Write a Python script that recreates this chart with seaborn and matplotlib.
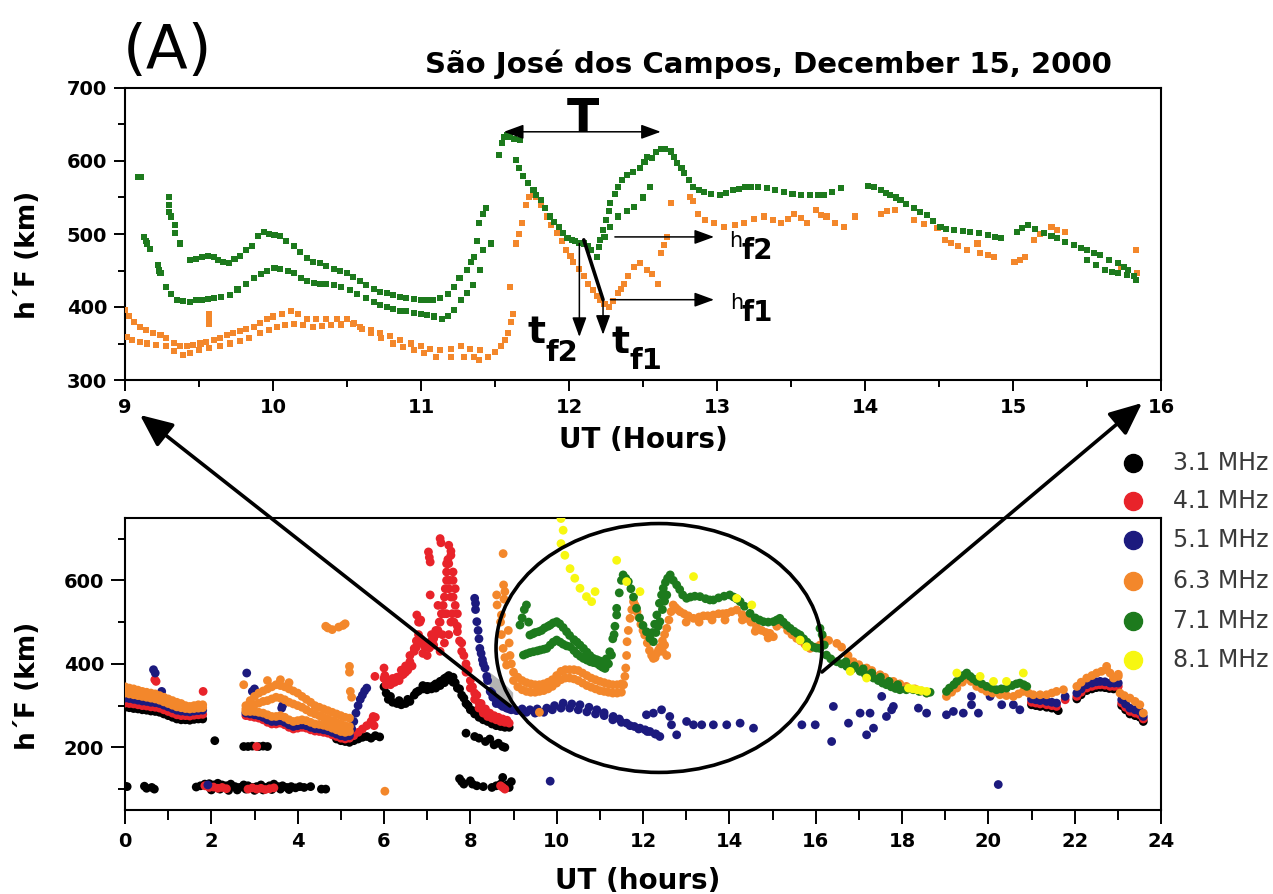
import numpy as np
import pandas as pd
import matplotlib
matplotlib.use("Agg")
import matplotlib.pyplot as plt
import seaborn as sns
from matplotlib.patches import Ellipse, FancyArrowPatch
from matplotlib.lines import Line2D

# ------------------------------------------------------------------ DATA
# --- Top panel (zoom, 9-16 UT): 6.3 MHz (orange) and 7.1 MHz (green)
top_green_t = [9.09, 9.11, 9.13, 9.14, 9.15, 9.17, 9.22, 9.23, 9.24, 9.30, 9.30, 9.30, 9.31, 9.34, 9.34, 9.37,
               9.44, 9.48, 9.52, 9.56, 9.60, 9.63, 9.66, 9.70, 9.74, 9.78, 9.82, 9.86, 9.90, 9.94, 9.97, 10.01,
               10.05, 10.09, 10.14, 10.18, 10.23, 10.27, 10.32, 10.36, 10.41, 10.45, 10.50, 10.54, 10.59, 10.63,
               10.68, 10.72, 10.77, 10.81, 10.86, 10.90, 10.95, 11.00, 11.04, 11.08, 11.13, 11.18, 11.22, 11.26,
               11.31, 11.34, 11.36, 11.38, 11.39, 11.42, 11.44,
               9.28, 9.31, 9.35, 9.39, 9.44, 9.48, 9.52, 9.56, 9.60, 9.65, 9.71, 9.76, 9.82, 9.87, 9.92, 9.96,
               10.01, 10.05, 10.10, 10.14, 10.19, 10.23, 10.28, 10.32, 10.36, 10.41, 10.46, 10.52, 10.57, 10.63,
               10.68, 10.72, 10.77, 10.81, 10.86, 10.90, 10.95, 11.00, 11.04, 11.09, 11.14, 11.18, 11.22, 11.27,
               11.31, 11.35, 11.40, 11.42, 11.47,
               11.53, 11.55, 11.56, 11.58, 11.60, 11.63, 11.67, 11.64, 11.66, 11.69, 11.72, 11.76, 11.78, 11.81,
               11.84, 11.87, 11.90, 11.93, 11.96, 11.99, 12.02, 12.04, 12.07, 12.10, 12.13, 12.15, 12.19, 12.20,
               12.21, 12.23, 12.25, 12.27, 12.28, 12.31, 12.33, 12.36, 12.39, 12.43, 12.48, 12.51, 12.53, 12.56,
               12.59, 12.62, 12.65, 12.69, 12.71, 12.73, 12.76, 12.78, 12.81, 12.84, 12.88, 12.91, 12.96, 13.02,
               13.06, 13.11, 13.15, 13.19, 13.23, 13.28, 13.34, 13.39, 13.45, 13.51, 13.57, 13.63, 13.68, 13.72,
               13.78, 13.84, 14.02, 14.06, 14.11, 14.14, 14.17, 14.21, 14.24, 14.28, 14.33, 14.37, 14.42, 14.46,
               14.51, 14.55, 14.60, 14.66, 14.71, 14.77, 14.83, 14.88, 14.92, 15.03, 15.06, 15.10, 15.15, 15.21,
               15.26, 15.30, 15.35, 15.41, 15.46, 15.50, 15.55, 15.59, 15.65, 15.71, 15.75, 15.78, 15.83,
               12.24, 12.28, 12.33, 12.39, 12.44, 12.50, 12.55,
               15.50, 15.56, 15.62, 15.67, 15.71, 15.77, 15.82]
top_green_h = [578, 578, 496, 490, 487, 480, 457, 450, 446, 551, 540, 530, 524, 512, 502, 487,
               465, 466, 468, 470, 469, 465, 462, 460, 466, 470, 478, 484, 497, 503, 500, 499,
               497, 490, 483, 475, 467, 462, 460, 456, 452, 449, 446, 441, 435, 430,
               425, 421, 419, 416, 414, 412, 411, 410, 409, 410, 412, 418, 428, 440,
               451, 462, 469, 490, 515, 528, 535,
               428, 418, 410, 408, 407, 409, 410, 411, 412, 414, 416, 424, 432, 440, 445, 449,
               453, 452, 449, 446, 440, 435, 433, 432, 432, 430, 427, 423, 418, 412,
               407, 403, 400, 397, 395, 394, 392, 390, 389, 387, 384, 388, 396, 410,
               419, 430, 451, 478, 487,
               608, 625, 633, 636, 633, 630, 629, 601, 590, 579, 570, 560, 553, 547,
               535, 524, 517, 510, 502, 494, 492, 490, 488, 487, 483, 478, 469, 482,
               492, 505, 519, 531, 542, 555, 565, 574, 581, 585, 590, 598, 606, 604,
               612, 617, 616, 613, 605, 597, 590, 583, 574, 565, 560, 558, 555, 553,
               556, 560, 562, 564, 565, 564, 563, 560, 558, 555, 553, 553, 553, 553,
               558, 563, 566, 565, 560, 556, 553, 550, 547, 541, 535, 530, 526, 518,
               510, 507, 505, 504, 503, 501, 499, 496, 494, 503, 508, 512, 507, 501,
               497, 494, 489, 485, 481, 478, 474, 471, 465, 460, 455, 451, 437,
               496, 510, 524, 531, 537, 550, 565,
               464, 458, 451, 448, 446, 444, 442]

top_orange_t = [9.00, 9.03, 9.06, 9.10, 9.14, 9.19, 9.24, 9.28, 9.33, 9.37, 9.42, 9.46, 9.51, 9.55, 9.60, 9.64,
                9.69, 9.73, 9.78, 9.82, 9.87, 9.91, 9.96, 10.00, 10.06, 10.12, 10.17, 10.23, 10.29, 10.36, 10.43,
                10.50, 10.55, 10.59, 10.66, 10.72, 10.79, 10.86, 10.93, 11.00, 11.06, 11.13, 11.20, 11.27, 11.33,
                11.40,
                9.01, 9.05, 9.10, 9.15, 9.21, 9.28, 9.33, 9.39, 9.44, 9.50, 9.57, 9.64, 9.71, 9.78, 9.84, 9.91,
                9.97, 10.03, 10.08, 10.14, 10.20, 10.27, 10.33, 10.39, 10.46, 10.54, 10.60, 10.66, 10.73, 10.81,
                10.88, 10.95, 11.02, 11.10, 11.20, 11.29, 11.36, 11.39, 11.45, 11.50,
                9.57, 9.57, 9.57,
                11.54, 11.57, 11.59, 11.61, 11.62, 11.60, 11.64, 11.66, 11.68, 11.71, 11.73, 11.76, 11.78, 11.81,
                11.85, 11.88, 11.92, 11.95, 11.98, 12.01, 12.03, 12.07, 12.10, 12.13, 12.16, 12.19, 12.21, 12.24,
                12.27, 12.30, 12.33, 12.35, 12.37, 12.40, 12.44, 12.48, 12.53, 12.56, 12.60, 12.62, 12.64, 12.66,
                12.69, 12.82, 12.84, 12.87, 12.92, 12.98, 13.05, 13.12, 13.18, 13.25, 13.32, 13.38, 13.43, 13.48,
                13.52, 13.57, 13.61, 13.67, 13.70, 13.74, 13.80, 13.86, 13.93, 14.11, 14.15, 14.20, 14.33, 14.40,
                14.49, 14.54, 14.58, 14.63, 14.69, 14.76, 14.78, 14.83, 14.87, 15.01, 15.05, 15.08, 15.14, 15.18,
                15.26, 15.30, 15.35, 15.73, 15.83, 15.84]
top_orange_h = [396, 388, 380, 373, 369, 365, 362, 357, 351, 346, 347, 348, 350, 352, 355, 358,
                361, 364, 367, 370, 373, 378, 383, 387, 391, 394, 390, 384, 384, 384, 384,
                384, 378, 373, 368, 364, 360, 355, 350, 346, 343, 341, 343, 346, 343,
                341,
                359, 355, 352, 350, 348, 346, 340, 334, 337, 341, 344, 346, 350, 353, 358, 364,
                369, 373, 375, 377, 375, 373, 374, 375, 376, 377, 370, 364, 357, 350,
                345, 341, 337, 332, 332, 332, 332, 327, 332, 338,
                391, 384, 377,
                346, 355, 364, 380, 391, 428, 487, 500, 515, 540, 551, 553, 551, 540,
                524, 512, 501, 490, 478, 470, 462, 452, 442, 432, 423, 415, 410, 404,
                400, 408, 419, 425, 432, 442, 455, 460, 451, 445, 432, 474, 485, 496,
                542, 551, 545, 528, 519, 515, 510, 512, 515, 520, 524, 519, 515, 520,
                528, 522, 515, 533, 526, 524, 515, 510, 524, 528, 531, 533, 519, 514,
                508, 492, 488, 483, 478, 487, 474, 471, 469, 462, 465, 469, 492, 500,
                510, 506, 503, 455, 478, 446]

# --- Bottom panel (full day, 0-24 UT): six sounding frequencies
f31_t = [0.0, 0.1, 0.2, 0.3, 0.4, 0.5, 0.6, 0.7, 0.8, 0.9, 1.0, 1.1, 1.2, 1.3, 1.4, 1.5, 1.6, 1.7, 1.8,
         0.0, 0.05, 0.45, 0.5, 0.62, 0.68,
         1.65, 1.75, 1.85, 1.95, 2.05, 2.15, 2.25, 2.35, 2.45, 2.55, 2.65, 2.75, 2.85, 2.95, 3.05, 3.15,
         3.25, 3.35, 3.45, 3.55, 3.65, 3.75, 3.85, 3.95, 4.05, 4.15, 4.3, 4.55, 4.65,
         2.0, 2.2, 2.4, 2.6, 2.8, 3.0, 3.2, 3.4, 3.6, 3.8,
         2.08, 2.75, 2.85, 2.95, 3.1, 3.2, 3.3,
         4.9, 5.0, 5.1, 5.2, 5.3, 5.4, 5.5, 5.6, 5.7, 5.8, 5.9,
         6.0, 6.05, 6.1, 6.2, 6.3, 6.4, 6.5, 6.6, 6.7, 6.8, 6.9, 7.0, 7.1, 7.2, 7.3, 7.4, 7.5, 7.6, 7.7,
         7.8, 7.9, 8.0, 8.1, 8.2, 8.3, 8.4, 8.5, 8.6, 8.7, 8.8, 8.9,
         7.2, 7.4, 7.5, 7.6, 7.3, 6.9, 7.0,
         6.15, 6.35, 6.55, 6.75, 7.05, 7.15, 7.35, 7.45, 7.65, 7.75, 7.85, 7.95, 8.05, 8.15, 8.25, 8.35,
         8.45, 8.55, 8.65, 8.75, 8.85,
         7.9, 8.1, 8.2, 8.35, 8.45, 8.55, 8.65, 8.75, 8.8,
         7.75, 7.8, 7.85, 8.0, 8.05, 8.15, 8.3, 8.5, 8.6, 8.7, 8.75, 8.85, 8.9, 8.95,
         21.0, 21.1, 21.2, 21.35, 21.47, 21.58, 21.62, 22.05, 22.15, 22.28, 22.4, 22.5, 22.6, 22.7, 22.8,
         22.9, 23.09, 23.18, 23.28, 23.4, 23.51, 23.59]
f31_h = [296, 295, 293, 292, 290, 289, 287, 286, 284, 280, 276, 272, 268, 266, 266, 265, 267, 268, 268,
         107, 106, 107, 102, 104, 100,
         105, 108, 112, 113, 110, 114, 110, 108, 112, 106, 104, 110, 108, 104, 106, 110,
         104, 108, 112, 106, 108, 104, 106, 103, 106, 104, 106, 100, 100,
         98, 100, 97, 98, 100, 97, 98, 99, 100, 99,
         216, 202, 202, 203, 202, 203, 202,
         220, 216, 214, 212, 216, 220, 224, 226, 222, 228, 225,
         345, 330, 315, 308, 305, 302, 305, 310, 325, 335, 340, 338, 340, 342, 348, 355, 362, 356, 342,
         325, 305, 290, 280, 272, 266, 262, 256, 252, 250, 248, 248,
         352, 365, 372, 368, 358, 348, 346,
         322, 312, 315, 332, 345, 348, 360, 368, 355, 340, 318, 300, 288, 280, 272, 266,
         262, 258, 256, 254, 254,
         234, 226, 222, 214, 220, 206, 210, 202, 200,
         125, 118, 112, 120, 112, 108, 106, 104, 108, 112, 128, 110, 104, 118,
         302, 300, 298, 296, 294, 292, 288, 316, 326, 336, 340, 343, 344, 343, 341,
         340, 300, 290, 280, 276, 272, 262]

f41_t = [0.0, 0.1, 0.2, 0.3, 0.4, 0.5, 0.6, 0.7, 0.8, 0.9, 1.0, 1.1, 1.2, 1.3, 1.4, 1.5, 1.6, 1.7, 1.8,
         0.69, 0.72, 1.81,
         1.85, 1.95, 2.05, 2.15, 2.25, 2.35, 2.85, 2.95, 3.05, 3.15, 3.25, 3.35, 3.45, 3.05,
         2.8, 2.9, 3.0, 3.1, 3.2, 3.3, 3.4, 3.5, 3.6, 3.7, 3.8, 3.9, 4.0, 4.1, 4.2, 4.3, 4.4, 4.5, 4.6,
         4.7, 4.8, 4.9, 5.0, 5.1, 5.2, 5.3, 5.4, 5.5, 5.6, 5.7, 5.75, 5.8, 5.79,
         6.0, 6.02, 6.05, 6.1, 6.2, 6.3, 6.4, 6.5, 6.55, 6.6, 6.7, 6.75, 6.8, 6.85, 6.9, 7.0, 7.05, 7.1,
         7.15, 7.2, 7.3, 7.35, 7.4, 7.45, 7.5, 7.55, 7.6, 7.65, 7.7, 7.8, 7.9, 8.0, 8.1, 8.2, 8.3, 8.4,
         8.5, 8.6, 8.7, 8.8, 8.9,
         7.03, 7.05, 7.07, 7.07, 7.3, 7.32, 6.76, 6.85, 7.45, 7.5, 7.55, 7.25, 7.4,
         7.3, 7.4, 7.5, 7.55, 7.6, 7.35, 7.45, 7.5, 7.6, 7.65, 7.7,
         7.8, 7.9, 8.0, 8.1, 8.2,
         6.0, 6.05, 6.1, 6.15, 6.2, 6.25, 6.3, 6.35, 6.4, 6.45, 6.5, 6.55, 6.6, 6.65,
         6.7, 6.75, 6.8, 6.83, 6.87, 6.95, 7.0, 7.05, 7.1, 7.15, 7.2, 7.25, 7.28, 7.33, 7.37, 7.42,
         7.45, 7.48, 7.52, 7.55, 7.58, 7.62,
         7.7, 7.75, 7.85, 7.95, 8.05, 8.15, 8.25, 8.35, 8.45, 8.55, 8.65, 8.75, 8.85,
         5.75, 5.77,
         8.7, 8.75, 8.8,
         21.0, 21.1, 21.2, 21.35, 21.47, 21.58, 21.78, 22.05, 22.15, 22.28, 22.4, 22.5, 22.59, 22.7,
         22.82, 22.92, 23.01, 23.09, 23.18, 23.28, 23.4, 23.51, 23.59]
f41_h = [306, 305, 304, 302, 300, 299, 297, 296, 294, 290, 286, 282, 278, 276, 276, 275, 277, 278, 279,
         362, 358, 334,
         108, 104, 105, 102, 104, 101, 100, 103, 100, 102, 99, 101, 103, 202,
         276, 274, 272, 270, 266, 260, 256, 256, 258, 254, 248, 244, 246, 248, 246, 242, 239, 238, 236,
         234, 230, 226, 222, 220, 222, 228, 236, 244, 252, 262, 270, 272, 370,
         390, 372, 360, 352, 355, 362, 372, 380, 390, 420, 437, 455, 500, 460, 425, 420, 450, 470,
         460, 480, 500, 520, 560, 600, 640, 670, 620, 540, 477, 430, 380, 342, 315, 294, 282, 274,
         270, 266, 262, 260, 258,
         668, 655, 644, 565, 700, 690, 517, 505, 640, 684, 660, 540, 520,
         430, 450, 470, 500, 560, 470, 520, 580, 600, 580, 520,
         450, 400, 360, 330, 306,
         365, 350, 360, 350, 365, 356, 368, 360, 385, 375, 395, 385, 405, 395,
         430, 440, 470, 500, 450, 440, 445, 438, 455, 445, 470, 480, 500, 520, 540, 580,
         620, 650, 600, 560, 520, 500,
         490, 455, 420, 385, 345, 325, 305, 292, 282, 276, 272, 268, 265,
         274, 252,
         108, 104, 100,
         308, 306, 304, 302, 300, 298, 314, 322, 332, 342, 346, 349, 350, 349,
         346, 346, 346, 306, 296, 286, 282, 278, 268]

f51_t = [0.0, 0.1, 0.2, 0.3, 0.4, 0.5, 0.6, 0.7, 0.8, 0.9, 1.0, 1.1, 1.2, 1.3, 1.4, 1.5, 1.6, 1.7, 1.8,
         0.66, 0.7, 0.85, 1.92,
         2.8, 2.9, 3.0, 3.1, 3.2, 3.3, 3.4, 3.5, 3.6, 3.7, 3.8, 3.9, 4.0, 4.1, 4.2, 4.3, 4.4, 4.5, 4.6,
         4.7, 4.8, 4.9, 5.0, 5.1, 5.2, 5.25, 5.3, 5.35, 5.4, 5.45, 5.5, 5.55, 5.6,
         2.82, 2.95, 3.0, 3.63, 3.65,
         8.1, 8.12, 8.15, 8.2, 8.22, 8.28, 8.34, 8.4, 8.46, 8.52, 8.61, 8.7, 8.84, 8.95, 9.07,
         8.12, 8.18, 8.25, 8.3, 8.38, 8.5, 8.6, 8.75, 8.9,
         9.2, 9.38, 9.55, 9.77, 9.95, 10.15, 10.35, 10.54, 10.75, 10.93, 11.1, 11.31, 11.45, 11.62, 11.8,
         11.93, 12.05, 12.16, 12.28, 12.39,
         9.3, 9.5, 9.7, 9.9, 10.1, 10.3, 10.5, 10.7, 10.9, 11.1, 11.3, 11.5, 11.7, 11.9, 12.1, 12.3,
         12.08, 12.24, 12.43, 12.66, 12.62, 12.78, 13.01, 13.17, 13.36, 13.63, 13.94, 14.25, 14.56,
         15.68, 15.99, 16.41, 16.37, 9.85,
         16.76, 17.03, 17.26, 17.18, 17.34, 17.53, 17.64, 17.76, 17.8, 18.38, 18.57, 19.03, 19.19,
         19.42, 19.61, 19.77, 19.61, 20.04, 20.31, 20.58, 20.73, 20.23,
         21.0, 21.1, 21.2, 21.35, 21.47, 21.58, 21.78, 22.05, 22.15, 22.28, 22.4, 22.5, 22.59, 22.7,
         22.82, 22.92, 23.01, 23.09, 23.18, 23.28, 23.4, 23.51, 23.59]
f51_h = [318, 317, 315, 313, 311, 310, 308, 307, 305, 301, 297, 293, 289, 287, 286, 285, 287, 288, 289,
         386, 378, 334, 110,
         282, 280, 278, 276, 272, 266, 262, 262, 264, 260, 254, 250, 252, 254, 252, 248, 245, 244, 242,
         240, 236, 232, 228, 226, 228, 245, 262, 282, 300, 315, 325, 335, 342,
         378, 334, 340, 294, 300,
         557, 530, 501, 460, 437, 410, 390, 360, 334, 320, 310, 302, 294, 290, 288,
         545, 480, 425, 400, 370, 330, 305, 298, 292,
         292, 290, 292, 294, 300, 306, 304, 302, 296, 290, 283, 274, 268, 258, 250,
         246, 242, 238, 232, 226,
         284, 282, 284, 290, 294, 294, 290, 285, 280, 276, 266, 260, 252, 244, 238, 232,
         278, 282, 290, 254, 274, 230, 262, 254, 254, 254, 254, 258, 246,
         254, 254, 298, 214, 119,
         258, 282, 282, 230, 246, 322, 274, 290, 298, 294, 282, 278, 286,
         282, 302, 282, 322, 322, 302, 302, 290, 111,
         316, 314, 312, 310, 308, 306, 322, 330, 340, 350, 354, 357, 358, 357,
         354, 354, 354, 314, 304, 294, 290, 286, 274]

f63_t = [0.0, 0.1, 0.2, 0.3, 0.4, 0.5, 0.6, 0.7, 0.8, 0.9, 1.0, 1.1, 1.2, 1.3, 1.4, 1.5, 1.6, 1.7, 1.8,
         0.0, 0.1, 0.2, 0.3, 0.4, 0.5, 0.6, 0.7, 0.8, 0.9, 1.0, 1.1, 1.2, 1.3, 1.4, 1.5, 1.6, 1.7, 1.8,
         2.8, 2.9, 3.0, 3.1, 3.2, 3.3, 3.4, 3.5, 3.6, 3.7, 3.8, 3.9, 4.0, 4.1, 4.2, 4.3, 4.4, 4.5, 4.6,
         4.7, 4.8, 4.9, 5.0, 5.1, 5.2,
         2.8, 2.9, 3.0, 3.1, 3.2, 3.3, 3.4, 3.5, 3.6, 3.7, 3.8, 3.9, 4.0, 4.1, 4.2, 4.3, 4.4, 4.5, 4.6,
         4.7, 4.8, 4.9, 5.0, 5.1, 5.2,
         2.8, 2.9, 3.0, 3.1, 3.2, 3.3, 3.4, 3.5, 3.6, 3.7, 3.8, 3.9, 4.0, 4.1, 4.2, 4.3, 4.4, 4.5, 4.6,
         4.7, 4.8, 4.9, 5.0, 5.1, 5.2,
         3.3, 3.6, 3.8, 2.75,
         4.65, 4.7, 4.8, 4.95, 5.05, 5.1, 5.2, 5.2, 5.22, 5.25, 6.02,
         8.76, 8.61, 8.62, 8.77, 8.8, 8.78, 8.72, 8.7, 8.72, 8.76, 8.8, 8.84, 8.88, 8.9, 8.92, 8.95,
         9.0, 9.1, 9.2, 9.3, 9.4, 9.5, 9.6, 9.7, 9.8, 9.9, 10.0, 10.1, 10.2, 10.3, 10.4, 10.5, 10.6,
         10.7, 10.8, 10.9, 11.0, 11.1, 11.2, 11.3, 11.4, 11.5,
         9.0, 9.1, 9.2, 9.3, 9.4, 9.5, 9.6, 9.7, 9.8, 9.9, 10.0, 10.1, 10.2, 10.3, 10.4, 10.5, 10.6,
         10.7, 10.8, 10.9, 11.0, 11.1, 11.2, 11.3, 11.4, 11.5, 9.6,
         11.55, 11.58, 11.6, 11.62, 11.63, 11.66, 11.7, 11.74, 11.78, 11.82, 11.86, 11.9, 11.95, 12.0,
         12.04, 12.1, 12.15, 12.2, 12.24, 12.28, 12.32, 12.36, 12.4, 12.45, 12.5, 12.55, 12.6, 12.65,
         12.7, 12.75, 12.8, 12.86, 12.95, 13.05, 13.17, 13.3, 13.4, 13.5, 13.63, 13.75, 13.85, 13.94,
         14.05, 14.17, 14.3, 14.4, 14.5, 14.63, 14.75, 14.85, 14.94, 15.02, 15.1, 15.17, 15.25, 15.35,
         15.45, 15.56, 15.65, 15.75, 15.87, 16.0, 16.1,
         12.45, 12.5, 12.55, 13.0, 13.3, 13.6, 13.9, 14.3, 14.6, 14.9,
         16.18, 16.3, 16.49, 16.6, 16.75, 16.87, 17.0, 17.18, 17.3, 17.49, 17.6, 17.8, 17.95, 18.1, 18.3,
         18.45, 18.57, 19.03, 19.15, 19.27, 19.4, 19.5, 19.6, 19.73, 19.85, 19.96, 20.1, 20.27, 20.42,
         20.58, 20.7, 20.81, 20.93, 21.04, 21.2, 21.35, 21.47, 21.58, 21.74, 22.05, 22.15, 22.28, 22.4,
         22.51, 22.62, 22.74, 22.82, 22.9, 23.01, 23.05, 23.15, 23.28, 23.4, 23.51, 23.59, 22.74, 23.01]
f63_h = [345, 342, 340, 337, 334, 332, 330, 328, 324, 320, 316, 312, 308, 305, 300, 298, 300, 302, 302,
         330, 328, 326, 324, 322, 320, 318, 316, 313, 309, 305, 301, 297, 295, 293, 292, 293, 294, 295,
         300, 312, 322, 330, 335, 340, 345, 350, 348, 345, 340, 335, 330, 322, 315, 308, 300, 296, 292,
         288, 284, 280, 276, 272, 270,
         292, 296, 302, 306, 310, 312, 316, 320, 318, 314, 308, 304, 300, 296, 290, 284, 280, 276, 272,
         268, 264, 260, 256, 252, 250,
         286, 286, 286, 284, 282, 278, 274, 274, 276, 272, 266, 262, 264, 266, 264, 260, 256, 255, 253,
         250, 246, 242, 238, 236, 238,
         360, 362, 355, 350,
         490, 486, 482, 488, 492, 496, 394, 380, 334, 320, 95,
         664, 565, 541, 589, 573, 555, 517, 500, 470, 437, 415, 397, 480, 450, 420, 400,
         380, 368, 360, 355, 352, 350, 350, 352, 356, 362, 372, 382, 386, 386, 386, 384, 378,
         372, 366, 362, 358, 355, 352, 350, 350, 352,
         360, 345, 338, 334, 332, 332, 334, 336, 340, 346, 354, 362, 366, 366, 364, 360, 354,
         348, 344, 340, 336, 334, 332, 330, 330, 332, 284,
         350, 370, 390, 420, 453, 480, 509, 530, 549, 540, 525, 512, 495, 480,
         469, 450, 432, 420, 413, 415, 425, 433, 440, 455, 470, 485, 505, 525,
         541, 535, 530, 525, 520, 515, 509, 512, 515, 515, 517, 520, 520, 521,
         525, 529, 518, 509, 500, 489, 480, 475, 473, 465, 490, 501, 495, 480,
         470, 461, 455, 447, 437, 440, 445,
         430, 445, 420, 500, 500, 505, 505, 505, 478, 462,
         461, 456, 449, 440, 420, 405, 398, 390, 384, 374, 368, 358, 352, 346, 340,
         335, 330, 322, 332, 342, 356, 366, 358, 346, 340, 334, 330, 326, 324,
         322, 328, 334, 330, 326, 326, 326, 330, 334, 338, 346, 356, 366, 372,
         378, 382, 386, 378, 366, 370, 330, 324, 318, 310, 302, 282, 394, 375]

f71_t = [9.15, 9.2, 9.25, 9.3, 9.35, 9.38, 9.45, 9.5, 9.58, 9.65, 9.72, 9.8, 9.85, 9.92, 10.0, 10.07,
         10.15, 10.23, 10.3, 10.4, 10.47, 10.54, 10.62, 10.7, 10.77, 10.85, 10.93, 11.0, 11.08, 11.15,
         11.23, 11.3, 11.35, 11.39, 11.45, 11.5, 11.54, 11.6, 11.66, 11.72, 11.78, 11.85, 11.92, 12.0,
         12.08, 12.16, 12.22, 12.27, 12.32, 12.38, 12.43, 12.47, 12.52, 12.57, 12.63, 12.7, 12.78, 12.85,
         12.92, 13.01, 13.1, 13.2, 13.32, 13.45, 13.55, 13.63, 13.75, 13.88, 14.01, 14.1, 14.18, 14.25,
         14.35, 14.48, 14.6, 14.7, 14.79, 14.9, 15.02, 15.1, 15.17, 15.25, 15.33, 15.41, 15.5, 15.57,
         15.64, 15.72, 15.8, 15.87, 15.95, 16.02, 16.1,
         9.23, 9.3, 9.38, 9.46, 9.55, 9.62, 9.7, 9.77, 9.85, 9.92, 10.0, 10.08, 10.15, 10.23, 10.31,
         10.4, 10.47, 10.55, 10.62, 10.7, 10.78, 10.85, 10.93, 11.0, 11.06, 11.12, 11.2, 11.27, 11.33,
         11.39,
         12.24, 12.3, 12.35, 12.39, 12.45, 12.5, 12.55,
         16.1, 16.15, 16.2, 16.25, 16.35, 16.49, 16.6, 16.72, 16.85, 17.03, 17.15, 17.25, 17.34, 17.45,
         17.55, 17.64, 17.75, 17.85, 17.95, 18.1, 18.26, 18.4, 18.57, 18.65,
         16.7, 16.9, 17.1, 17.3, 17.5, 17.7, 17.9,
         19.03, 19.1, 19.2, 19.27, 19.35, 19.42, 19.5, 19.58, 19.65, 19.73, 19.85, 19.96, 20.08, 20.19,
         20.3, 20.42, 20.55, 20.65, 20.73, 20.82, 20.89]
f71_h = [493, 510, 530, 541, 500, 469, 472, 475, 477, 480, 486, 490, 493, 498, 501, 496,
         487, 477, 468, 458, 452, 445, 437, 428, 420, 413, 410, 407, 405, 412,
         429, 460, 490, 517, 570, 600, 613, 605, 597, 580, 560, 533, 510, 492,
         477, 461, 475, 495, 517, 545, 565, 581, 595, 605, 613, 600, 589, 578,
         565, 557, 560, 562, 561, 556, 553, 553, 558, 562, 565, 560, 555, 549,
         538, 521, 510, 505, 501, 500, 501, 505, 509, 500, 492, 485, 478, 473,
         469, 460, 452, 445, 440, 438, 437,
         421, 424, 427, 429, 431, 433, 435, 437, 445, 452, 457, 452, 447, 443, 441,
         432, 424, 418, 413, 409, 405, 403, 401, 396, 392, 389, 400, 421, 470,
         533,
         453, 475, 490, 501, 530, 550, 565,
         485, 470, 445, 421, 412, 405, 400, 394, 388, 382, 375, 370, 366, 360,
         354, 350, 345, 341, 338, 338, 338, 334, 330, 332,
         405, 395, 388, 378, 368, 358, 350,
         334, 342, 350, 358, 366, 372, 378, 370, 364, 358, 352, 346, 342, 338,
         340, 342, 348, 352, 354, 350, 346]

f81_t = [10.1, 10.15, 10.1, 10.19, 10.31, 10.42, 10.54, 10.69, 10.81, 10.89, 11.39, 11.62, 11.93,
         13.17, 14.17, 14.52, 15.64, 15.79, 16.8, 17.18, 18.15, 18.25, 18.35, 18.45, 18.57,
         19.27, 19.81, 20.12, 20.42, 20.81]
f81_h = [748, 720, 688, 660, 628, 605, 581, 561, 549, 573, 648, 597, 573,
         609, 557, 541, 457, 441, 382, 366, 342, 340, 338, 336, 334,
         378, 370, 358, 358, 378]

freq_labels = ["3.1 MHz", "4.1 MHz", "5.1 MHz", "6.3 MHz", "7.1 MHz", "8.1 MHz"]
freq_colors = ["#000000", "#e8232a", "#1c1a7e", "#f3872b", "#1d7a1d", "#f7f711"]

# annotation shapes (bottom panel): shaded gap and the zoom ellipse
gap_t = [8.42, 8.55, 8.7, 8.85, 8.98]
gap_upper = [382, 372, 360, 346, 332]
gap_lower = [352, 322, 302, 295, 292]
ellipse_center = (12.37, 438)
ellipse_size = (7.55, 596)

# ------------------------------------------------------------------ FIGURE
sns.set_theme(style="ticks")
plt.rcParams["font.family"] = ["DejaVu Sans"]
plt.rcParams["mathtext.fontset"] = "dejavusans"
for key in ("text.color", "axes.labelcolor", "xtick.color", "ytick.color", "axes.edgecolor"):
    plt.rcParams[key] = "black"

W, H = 1273, 894
fig = plt.figure(figsize=(W / 100, H / 100), dpi=100)
fig.patch.set_facecolor("white")


def fx(px):
    return px / W


def fy(py):
    return 1 - py / H


ax_top = fig.add_axes([fx(125), fy(380), (1161 - 125) / W, (380 - 88) / H])
ax_bot = fig.add_axes([fx(125), fy(810), (1161 - 125) / W, (810 - 517.7) / H])

# --- top panel
df_top = pd.concat([
    pd.DataFrame({"t": top_orange_t, "h": top_orange_h, "f": "6.3 MHz"}),
    pd.DataFrame({"t": top_green_t, "h": top_green_h, "f": "7.1 MHz"}),
])
sns.scatterplot(data=df_top, x="t", y="h", hue="f",
                palette={"6.3 MHz": freq_colors[3], "7.1 MHz": freq_colors[4]},
                marker="s", s=19, linewidth=0, legend=False, ax=ax_top, zorder=3)
ax_top.set_xlim(9, 16)
ax_top.set_ylim(300, 700)
ax_top.set_xticks(range(9, 17))
ax_top.set_xticks(np.arange(9.5, 16, 1.0), minor=True)
ax_top.set_yticks(range(300, 701, 100))
ax_top.set_yticks(range(350, 700, 100), minor=True)
ax_top.set_xlabel("")
ax_top.set_ylabel("")

# --- bottom panel
series = [(f31_t, f31_h), (f41_t, f41_h), (f51_t, f51_h), (f63_t, f63_h), (f71_t, f71_h), (f81_t, f81_h)]
df_bot = pd.concat([pd.DataFrame({"t": t, "h": h, "f": lab})
                    for (t, h), lab in zip(series, freq_labels)], ignore_index=True)
ax_bot.fill_between(gap_t, gap_lower, gap_upper, color="#b3b3b3", linewidth=0, zorder=2)
sns.scatterplot(data=df_bot, x="t", y="h", hue="f", hue_order=freq_labels,
                palette=dict(zip(freq_labels, freq_colors)),
                marker="o", s=40, linewidth=0, legend=False, ax=ax_bot, zorder=3)
ax_bot.set_xlim(0, 24)
ax_bot.set_ylim(50, 750)
ax_bot.set_xticks(range(0, 25, 2))
ax_bot.set_xticks(range(1, 24, 2), minor=True)
ax_bot.set_yticks([200, 400, 600])
ax_bot.set_yticks([100, 300, 500, 700], minor=True)
ax_bot.set_xlabel("")
ax_bot.set_ylabel("")
ax_bot.add_patch(Ellipse(ellipse_center, ellipse_size[0], ellipse_size[1], fill=False,
                         edgecolor="black", linewidth=2.6, zorder=6))

for ax in (ax_top, ax_bot):
    for sp in ax.spines.values():
        sp.set_linewidth(1.5)
        sp.set_color("black")
        sp.set_visible(True)
    ax.tick_params(which="both", direction="out", width=1.4, color="black",
                   top=False, right=False, labelsize=14, labelcolor="black")
    ax.tick_params(which="major", length=8, pad=5)
    ax.tick_params(which="minor", length=5)
    for lab in ax.get_xticklabels() + ax.get_yticklabels():
        lab.set_fontweight("bold")
ax_bot.tick_params(axis="x", which="major", length=10, pad=6)
ax_bot.tick_params(axis="x", which="minor", length=7)
ax_bot.tick_params(axis="y", which="major", length=10)

# --- top-panel annotations
arr = dict(arrowstyle="-|>,head_length=0.6,head_width=0.22", color="black", lw=1.1,
           shrinkA=0, shrinkB=0, mutation_scale=20)
ax_top.annotate("", xy=(11.56, 640), xytext=(12.62, 640),
                arrowprops=dict(arr, arrowstyle="<|-|>,head_length=0.6,head_width=0.22"))
ax_top.annotate("", xy=(12.98, 496), xytext=(12.31, 496), arrowprops=arr)
ax_top.annotate("", xy=(12.98, 410), xytext=(12.28, 410), arrowprops=arr)
ax_top.annotate("", xy=(12.07, 359), xytext=(12.07, 487), arrowprops=arr)
ax_top.annotate("", xy=(12.23, 362), xytext=(12.23, 410), arrowprops=arr)
ax_top.plot([12.10, 12.23], [492, 410], color="black", lw=2.6, zorder=5)

fig.text(fx(583), fy(132), "T", ha="center", va="baseline", fontsize=34, fontweight="bold")
fig.text(fx(528), fy(343), "t", ha="left", va="baseline", fontsize=27, fontweight="bold")
fig.text(fx(545), fy(361), "f2", ha="left", va="baseline", fontsize=21, fontweight="bold")
fig.text(fx(611), fy(353), "t", ha="left", va="baseline", fontsize=27, fontweight="bold")
fig.text(fx(629), fy(369), "f1", ha="left", va="baseline", fontsize=21, fontweight="bold")
fig.text(fx(729), fy(247), "h", ha="left", va="baseline", fontsize=15)
fig.text(fx(741), fy(259), "f2", ha="left", va="baseline", fontsize=20, fontweight="bold")
fig.text(fx(730), fy(309), "h", ha="left", va="baseline", fontsize=15)
fig.text(fx(742), fy(321), "f1", ha="left", va="baseline", fontsize=20, fontweight="bold")

# --- titles and axis labels
fig.text(fx(123), fy(68), "(A)", ha="left", va="baseline", fontsize=44)
fig.text(fx(768), fy(73), "São José dos Campos, December 15, 2000", ha="center", va="baseline",
         fontsize=21, fontweight="bold")
fig.text(fx(643), fy(448), "UT (Hours)", ha="center", va="baseline", fontsize=20, fontweight="bold")
fig.text(fx(638), fy(889), "UT (hours)", ha="center", va="baseline", fontsize=20, fontweight="bold")
fig.text(fx(28), fy(255), "h´F (km)", ha="center", va="center", rotation=90, fontsize=19,
         fontweight="bold")
fig.text(fx(28), fy(686), "h´F (km)", ha="center", va="center", rotation=90, fontsize=19,
         fontweight="bold")

# --- big zoom arrows between panels
big = dict(arrowstyle="-|>,head_length=0.9,head_width=0.4", color="black", lw=2.6,
           mutation_scale=22, shrinkA=0, shrinkB=0)
fig.add_artist(FancyArrowPatch((fx(510), fy(706)), (fx(140), fy(415)),
                               transform=fig.transFigure, zorder=7, **big))
fig.add_artist(FancyArrowPatch((fx(822), fy(672)), (fx(1142), fy(403)),
                               transform=fig.transFigure, zorder=7, **big))

# --- legend
leg_y = [463, 501, 540, 581, 621, 660]
for lab, col, yy in zip(freq_labels, freq_colors, leg_y):
    fig.add_artist(Line2D([fx(1133)], [fy(yy)], marker="o", markersize=13, color=col,
                          linestyle="none", transform=fig.transFigure, zorder=8))
    fig.text(fx(1173), fy(yy), lab, ha="left", va="center", fontsize=17, color="#3a3a3a")

fig.savefig("out.png", dpi=100, facecolor="white")
